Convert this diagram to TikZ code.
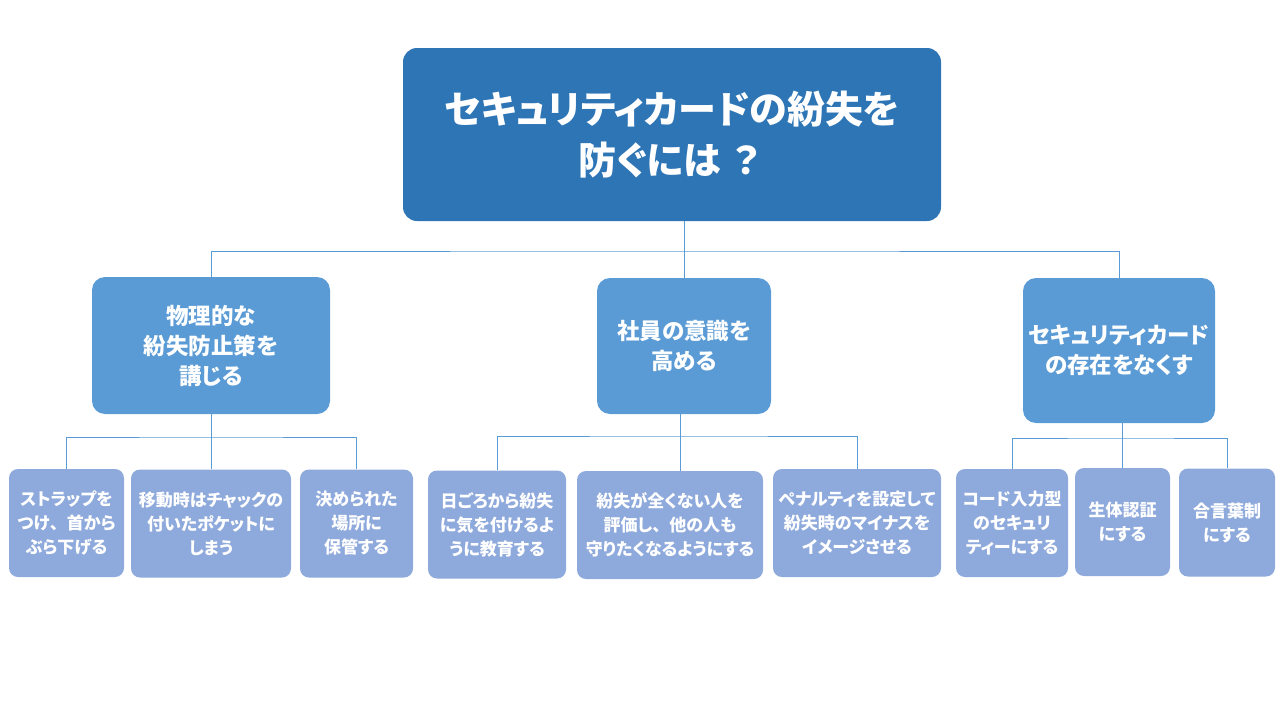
\documentclass[tikz,border=0pt]{standalone}
\usepackage{fontspec}
\setmainfont{Noto Sans CJK JP}[RawFeature=+palt]
\usepackage{tikz}
\newcommand{\fullwidth}[1]{{\addfontfeatures{RawFeature=-palt}#1}}
\definecolor{topblue}{HTML}{2E75B6}
\definecolor{midblue}{HTML}{5B9BD5}
\definecolor{leafblue}{HTML}{8EA9DB}
\tikzset{
  conn/.style={midblue, line width=1pt},
  topbox/.style={fill=topblue, rounded corners=14pt, text=white, align=center, inner sep=0pt,
    font=\fontsize{38}{51}\selectfont\bfseries},
  midbox/.style={fill=midblue, rounded corners=13pt, text=white, align=center, inner sep=0pt,
    font=\fontsize{22.5}{30}\selectfont\bfseries},
  leafbox/.style={fill=leafblue, rounded corners=9pt, text=white, align=center, inner sep=0pt,
    minimum height=108pt, font=\fontsize{17}{24}\selectfont\bfseries}
}

\begin{document}
\begin{tikzpicture}[x=1pt, y=-1pt]
    \useasboundingbox (0,0) rectangle (1280,720);
    \node[topbox, minimum width=538pt, minimum height=173pt] (top) at (672,134.5)
      {セキュリティカードの紛失を\\防ぐには\,\fullwidth{？}};
    \node[midbox, minimum width=238pt, minimum height=137pt] (A) at (211,345.5)
      {物理的な\\紛失防止策を\\講じる};
    \node[midbox, minimum width=174pt, minimum height=136pt] (B) at (684,346)
      {社員の意識を\\高める};
    \node[midbox, minimum width=192pt, minimum height=145pt] (C) at (1119,350.5)
      {セキュリティカード\\の存在をなくす};
    \foreach \n/\x/\y/\w/\t in {
        a1/66.5/523/115/{ストラップを\\つけ\fullwidth{、}首から\\ぶら下げる},
        a2/211/523.5/160/{移動時はチャックの\\付いたポケットに\\しまう},
        a3/356.5/523.5/113/{決められた\\場所に\\保管する},
        b1/497/524.5/138/{日ごろから紛失\\に気を付けるよ\\うに教育する},
        b2/670/525/186/{紛失が全くない人を\\評価し\fullwidth{、}他の人も\\守りたくなるようにする},
        b3/857/523/168/{ペナルティを設定して\\紛失時のマイナスを\\イメージさせる},
        c1/1012/523/112/{コード入力型\\のセキュリ\\ティーにする},
        c2/1122.5/522/95/{生体認証\\にする},
        c3/1227/522.5/96/{合言葉制\\にする}}
      { \node[leafbox, minimum width=\w pt] (\n) at (\x,\y) {\t}; }
    \coordinate (barT) at (684,251);
    \coordinate (barA) at (211,437);
    \coordinate (barB) at (680,436);
    \coordinate (barC) at (1122,438);
    \draw[conn] (top.south -| B.north) -- (B.north);
    \draw[conn] (A.north) |- (barT) -| (C.north);
    \draw[conn] (A.south) -- (a2.north);
    \draw[conn] (a1.north) |- (barA) -| (a3.north);
    \draw[conn] (B.south -| barB) -- (barB);
    \draw[conn] (b1.north) |- (barB) -| (b3.north);
    \draw[conn] (barB) -- (barB |- b2.north);
    \draw[conn] (C.south -| barC) -- (barC);
    \draw[conn] (c1.north) |- (barC) -| (c3.north);
    \draw[conn] (barC) -- (barC |- c2.north);
  \end{tikzpicture}
\end{document}
